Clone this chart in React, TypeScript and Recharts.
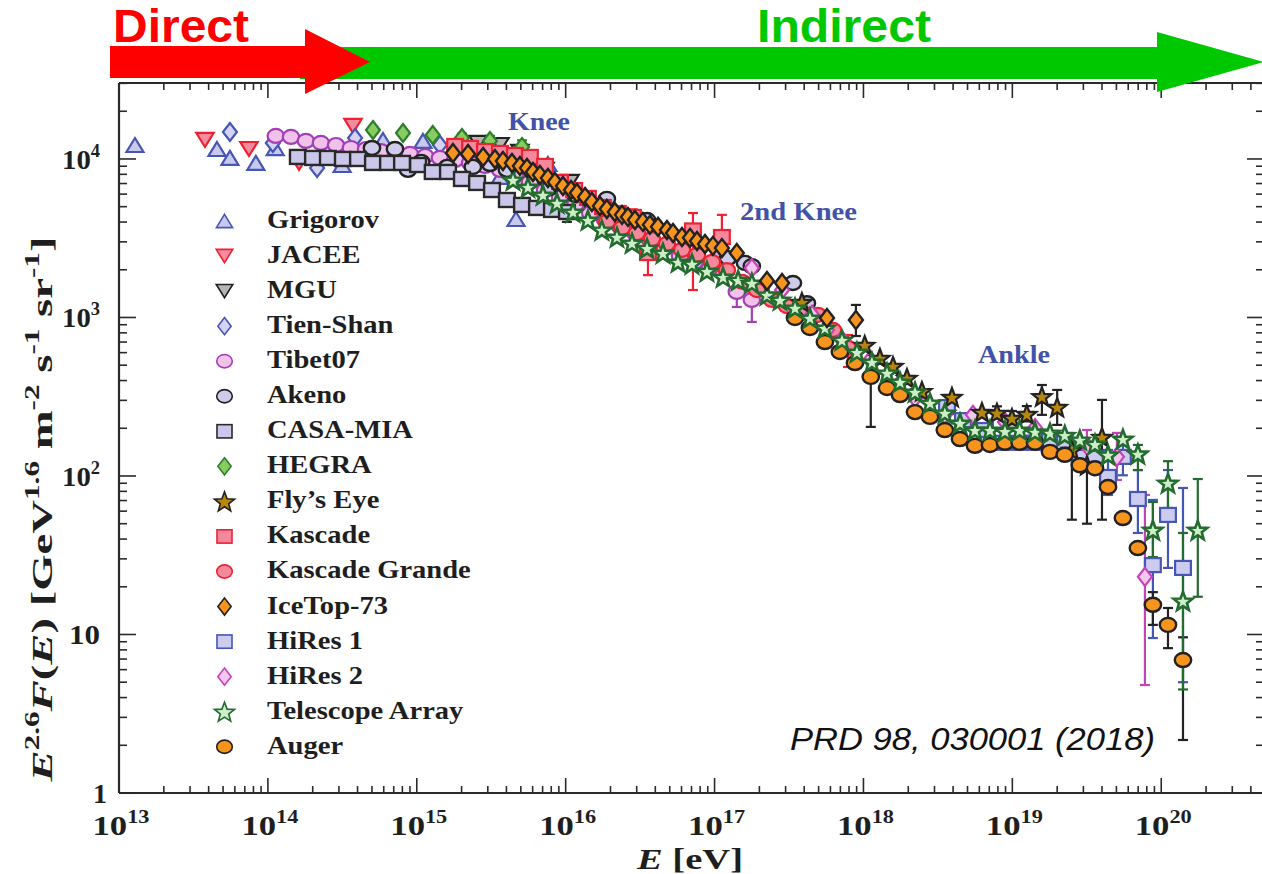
import React from 'react';
import { ScatterChart, Scatter, XAxis, YAxis, ErrorBar, ReferenceLine } from 'recharts';

// ---------- data: [E (eV), E^2.6 F(E), errLow?, errHigh?] ----------
const GRIGOROV = [
  [1.28e13, 12250], [4.55e13, 11560], [5.56e13, 10150], [8.3e13, 9440], [1.12e14, 11720],
  [3.15e14, 9160], [5.93e14, 13180], [1.1e15, 13000], [3.62e15, 7700], [4.64e15, 4180], [7.6e15, 9300],
];
const JACEE = [[3.78e13, 13180], [7.46e13, 11560], [1.62e14, 9440], [3.73e14, 16150]];
const MGU = [[2.58e15, 12620], [3.62e15, 12250], [4.93e15, 11070], [7.26e15, 8530], [1.07e16, 7160]];
const TIEN_SHAN = [[5.56e13, 14800], [1.08e14, 12620], [2.14e14, 8770], [3.85e14, 13560], [1.43e15, 12250]];
const TIBET07 = [
  [1.13e14, 13970], [1.43e14, 13770], [1.8e14, 12990], [2.27e14, 12620], [2.87e14, 12250], [3.61e14, 11730],
  [4.56e14, 11560], [5.75e14, 11220], [7.25e14, 10900], [9.0e14, 10760], [1.14e15, 10440], [1.43e15, 10150],
  [1.81e15, 9860], [2.28e15, 9440], [2.87e15, 9040], [3.62e15, 8530], [4.56e15, 7810], [5.75e15, 7160],
  [7.26e15, 6370], [9.16e15, 5760], [1.16e16, 5130], [1.46e16, 4560], [1.84e16, 4120], [2.32e16, 3730],
  [2.92e16, 3410], [3.68e16, 3080], [4.64e16, 2740], [5.86e16, 2440], [7.38e16, 2240], [9.31e16, 2050],
  [1.41e17, 1450, 285, 325], [1.78e17, 1290, 353, 650],
];
const AKENO = [
  [5.0e14, 11730], [7.14e14, 11560], [8.73e14, 8540], [1.07e15, 9580], [1.6e15, 8910], [2.38e15, 8910],
  [3.1e15, 9290], [4.03e15, 8540], [7.85e15, 6560], [1.16e16, 5930], [1.89e16, 5600], [3.52e16, 4120],
  [1.09e17, 2550], [1.23e17, 2370], [1.6e17, 2210], [1.78e17, 2110], [3.36e17, 1650], [4.17e17, 1230],
];
const CASA_MIA = [
  [1.59e14, 10300], [2.01e14, 10150], [2.53e14, 10150], [3.19e14, 10000], [4.03e14, 10000], [5.08e14, 9440],
  [6.41e14, 9440], [7.96e14, 9440], [1.02e15, 9160], [1.28e15, 8280], [1.62e15, 8280], [2.01e15, 7480],
  [2.54e15, 7060], [3.2e15, 6370], [4.03e15, 5510], [5.09e15, 5130], [6.42e15, 4910], [8.09e15, 4770],
  [1.02e16, 4630, 620, 300],
];
const HEGRA = [
  [5.08e14, 15240], [8.08e14, 14590], [1.28e15, 14170], [2.01e15, 13560, 700, 900],
  [3.1e15, 12990, 700, 1000], [5.09e15, 11910, 700, 1200],
];
const FLYS_EYE = [
  [3.86e17, 1250], [1.02e18, 670], [1.29e18, 555], [1.58e18, 494], [1.96e18, 415], [2.47e18, 343],
  [3.93e18, 315], [6.25e18, 253], [7.88e18, 250, 20, 25], [9.94e18, 232, 20, 25], [1.25e19, 246, 25, 30],
  [1.58e19, 318, 75, 57], [2.0e19, 272, 62, 77], [2.51e19, 146, 93, 23], [3.17e19, 117, 67, 19],
  [4.0e19, 176, 123, 126],
];
const KASCADE = [
  [1.81e15, 12080], [2.28e15, 11730], [2.87e15, 11220], [3.62e15, 10920], [4.56e15, 10600], [5.75e15, 10300],
  [7.26e15, 9040], [9.16e15, 7160], [1.14e16, 6370], [1.41e16, 5680], [1.78e16, 4980], [2.24e16, 4560],
  [2.83e16, 4310, 400, 500], [3.57e16, 2550, 700, 530], [7.16e16, 3540, 2050, 1020], [1.12e17, 3220, 1420, 1220],
];
const KASCADE_GRANDE = [
  [1.89e16, 4010], [2.39e16, 3670], [3.01e16, 3410], [3.8e16, 3120], [4.79e16, 2910], [6.04e16, 2670],
  [7.62e16, 2480], [9.6e16, 2240], [1.21e17, 1990], [1.53e17, 1680], [1.93e17, 1490], [2.43e17, 1290],
  [3.06e17, 1180], [3.86e17, 1080], [4.94e17, 1040], [6.24e17, 834], [7.87e17, 643, 156, 133],
];
const ICETOP_73 = [
  [1.75e15, 10900], [2.21e15, 10760], [2.79e15, 10300], [3.35e15, 10000], [3.79e15, 9710], [4.36e15, 9440],
  [4.93e15, 9040], [5.5e15, 8770], [6.03e15, 8280], [6.72e15, 7930], [7.6e15, 7590], [8.47e15, 7160],
  [9.59e15, 6760], [1.086e16, 6370], [1.19e16, 6100], [1.35e16, 5760], [1.5e16, 5350], [1.7e16, 5050],
  [1.89e16, 4840], [2.14e16, 4630], [2.39e16, 4440], [2.62e16, 4310], [2.92e16, 4120], [3.3e16, 4010],
  [3.68e16, 3840], [4.17e16, 3730], [4.79e16, 3560], [5.26e16, 3410], [6.04e16, 3220], [6.84e16, 3180],
  [7.62e16, 3040], [8.63e16, 2910], [9.75e16, 2830], [1.12e17, 2740], [1.41e17, 2550], [2.25e17, 1700],
  [2.84e17, 1650], [5.69e17, 993], [8.9e17, 964, 200, 236],
];
const HIRES_1 = [
  [3.64e18, 272], [4.66e18, 225], [6.55e18, 195], [8.51e18, 162], [1.12e19, 162], [1.42e19, 162],
  [1.79e19, 169], [2.25e19, 164], [2.84e19, 132], [3.59e19, 130], [4.39e19, 98.6, 22.7, 47.4],
  [5.53e19, 132, 31, 32], [6.97e19, 71.6, 27.9, 37.4], [8.79e19, 27.4, 17.9, 43.2],
  [1.11e20, 56.8, 30.5, 52.2], [1.4e20, 26.3, 21.3, 57.7],
];
const HIRES_2 = [
  [1.78e17, 2050], [2.84e17, 1490], [4.51e17, 1040], [5.69e17, 834], [7.17e17, 721], [1.11e18, 539],
  [1.76e18, 386], [2.22e18, 311], [3.52e18, 243], [5.44e18, 243], [8.92e18, 219], [1.42e19, 201],
  [3.17e19, 155, 32, 40], [5.04e19, 132, 37.6, 55], [7.77e19, 23.1, 18.3, 52.8],
];
const TELESCOPE_ARRAY = [
  [4.43e15, 7380], [5.58e15, 6650], [7.04e15, 5930], [8.75e15, 5280], [1.12e16, 4630], [1.41e16, 4120],
  [1.75e16, 3570], [2.21e16, 3220], [2.79e16, 2950], [3.52e16, 2740], [4.5e16, 2550], [5.68e16, 2240],
  [7.05e16, 2180], [8.89e16, 1960], [1.14e17, 1800], [1.44e17, 1720], [1.78e17, 1650], [2.25e17, 1390],
  [2.75e17, 1290], [3.47e17, 1150], [4.37e17, 993], [5.51e17, 859], [7.17e17, 721], [9.04e17, 605],
  [1.14e18, 524], [1.44e18, 447], [1.76e18, 392], [2.22e18, 339], [2.8e18, 289], [3.52e18, 250],
  [4.45e18, 216], [5.61e18, 195], [7.08e18, 195], [8.92e18, 192], [1.12e19, 195], [1.42e19, 190],
  [1.79e19, 187], [2.25e19, 181], [2.84e19, 169], [3.59e19, 159], [4.39e19, 136], [5.53e19, 171],
  [6.97e19, 138, 29, 19], [8.79e19, 45.6, 14.8, 22.9], [1.11e20, 90.3, 27.5, 33.7],
  [1.4e20, 16.3, 11.8, 27.4], [1.76e20, 45.6, 28.3, 50.1],
];
const AUGER = [
  [3.47e17, 993], [4.37e17, 859], [5.51e17, 700], [6.95e17, 606], [8.77e17, 516], [1.12e18, 422, 218, 31],
  [1.44e18, 359], [1.76e18, 324], [2.22e18, 253], [2.8e18, 236], [3.52e18, 195], [4.45e18, 171],
  [5.61e18, 155], [7.08e18, 157], [8.92e18, 162], [1.12e19, 162], [1.42e19, 162], [1.79e19, 142],
  [2.25e19, 136], [2.84e19, 117], [3.59e19, 112], [4.39e19, 85.2], [5.53e19, 54.3], [6.97e19, 35.1],
  [8.79e19, 15.4, 3.9, 3.1], [1.11e20, 11.5, 3.3, 3.2], [1.4e20, 6.9, 4.74, 2.7],
];

const X_DECADES = [13, 14, 15, 16, 17, 18, 19, 20];
const Y_DECADES = [0, 1, 2, 3, 4];
const X_DOMAIN = [1e13, 4.9e20];
const Y_DOMAIN = [1, 30150];

// ---------- layout ----------
const W = 1300;
const H = 874;
const M = { top: 83, right: 36, bottom: 80, left: 118 };
const PLOT_TOP = M.top;
const PLOT_RIGHT = W - M.right;
const AX = '#2a2a2a';
const TXT = '#1e1e1e';
const SERIF = "'Liberation Serif', 'Times New Roman', serif";
const SANS = "'Liberation Sans', Arial, sans-serif";

const X_TICKS: number[] = [];
X_DECADES.forEach((d) => {
  for (let m = 1; m <= 9; m++) {
    const v = m * Math.pow(10, d);
    if (v <= X_DOMAIN[1]) X_TICKS.push(v);
  }
});
const Y_TICKS: number[] = [];
Y_DECADES.forEach((d) => {
  for (let m = 1; m <= 9; m++) {
    const v = m * Math.pow(10, d);
    if (v <= Y_DOMAIN[1]) Y_TICKS.push(v);
  }
});

type Kind = 'triUp' | 'triDown' | 'diamond' | 'circle' | 'square' | 'star';
interface Style { kind: Kind; fill: string; stroke: string; sw: number }

function marker(st: Style, cx: number, cy: number, k = 1, key?: string) {
  const { kind, fill, stroke, sw } = st;
  const common = { fill, stroke, strokeWidth: sw, strokeLinejoin: 'miter' as const };
  if (kind === 'triUp') {
    const w = 8.5 * k, h = 7 * k;
    return <polygon key={key} points={`${cx},${cy - h} ${cx + w},${cy + h} ${cx - w},${cy + h}`} {...common} />;
  }
  if (kind === 'triDown') {
    const w = 8.7 * k, h = 7 * k;
    return <polygon key={key} points={`${cx - w},${cy - h} ${cx + w},${cy - h} ${cx},${cy + h}`} {...common} />;
  }
  if (kind === 'diamond') {
    const w = 7 * k, h = 9 * k;
    return <polygon key={key} points={`${cx},${cy - h} ${cx + w},${cy} ${cx},${cy + h} ${cx - w},${cy}`} {...common} />;
  }
  if (kind === 'circle') {
    return <ellipse key={key} cx={cx} cy={cy} rx={8.2 * k} ry={7 * k} {...common} />;
  }
  if (kind === 'square') {
    const w = 7.9 * k, h = 7 * k;
    return <rect key={key} x={cx - w} y={cy - h} width={2 * w} height={2 * h} {...common} />;
  }
  const R = 10 * k, r = 4.2 * k;
  const pts: string[] = [];
  for (let i = 0; i < 10; i++) {
    const a = -Math.PI / 2 + (i * Math.PI) / 5;
    const rr = i % 2 === 0 ? R : r;
    pts.push(`${cx + rr * Math.cos(a)},${cy + 1 + rr * Math.sin(a)}`);
  }
  return <polygon key={key} points={pts.join(' ')} {...common} />;
}

interface Series { name: string; data: number[][]; st: Style; err: string }
const SERIES: Series[] = [
  { name: 'Grigorov', data: GRIGOROV, st: { kind: 'triUp', fill: '#c9c9ee', stroke: '#4656b5', sw: 2.2 }, err: '#4656b5' },
  { name: 'JACEE', data: JACEE, st: { kind: 'triDown', fill: '#f28ca0', stroke: '#ee2030', sw: 2.2 }, err: '#ee2030' },
  { name: 'MGU', data: MGU, st: { kind: 'triDown', fill: '#b4b4b4', stroke: '#222', sw: 2.2 }, err: '#222' },
  { name: 'Tien-Shan', data: TIEN_SHAN, st: { kind: 'diamond', fill: '#d4d4f2', stroke: '#4656b5', sw: 2.2 }, err: '#4656b5' },
  { name: 'Tibet07', data: TIBET07, st: { kind: 'circle', fill: '#f0c2ea', stroke: '#a23fb6', sw: 2.2 }, err: '#a23fb6' },
  { name: 'Akeno', data: AKENO, st: { kind: 'circle', fill: '#cfcbea', stroke: '#222', sw: 2.4 }, err: '#222' },
  { name: 'CASA-MIA', data: CASA_MIA, st: { kind: 'square', fill: '#cbc7ea', stroke: '#2a2a2a', sw: 2.4 }, err: '#2a2a2a' },
  { name: 'HEGRA', data: HEGRA, st: { kind: 'diamond', fill: '#86cc5e', stroke: '#2f7d2f', sw: 2.2 }, err: '#2f7d2f' },
  { name: 'Kascade', data: KASCADE, st: { kind: 'square', fill: '#f4889c', stroke: '#ee2233', sw: 2.2 }, err: '#ee2233' },
  { name: 'Kascade Grande', data: KASCADE_GRANDE, st: { kind: 'circle', fill: '#f4889c', stroke: '#ee2233', sw: 2.2 }, err: '#ee2233' },
  { name: 'HiRes 1', data: HIRES_1, st: { kind: 'square', fill: '#cdcbf0', stroke: '#4656b5', sw: 2.2 }, err: '#4656b5' },
  { name: 'HiRes 2', data: HIRES_2, st: { kind: 'diamond', fill: '#f4c8ee', stroke: '#c543b8', sw: 2.2 }, err: '#c543b8' },
  { name: 'Fly\u2019s Eye', data: FLYS_EYE, st: { kind: 'star', fill: '#b8860b', stroke: '#222', sw: 2.2 }, err: '#222' },
  { name: 'Auger', data: AUGER, st: { kind: 'circle', fill: '#f7941d', stroke: '#222', sw: 2.4 }, err: '#222' },
  { name: 'Telescope Array', data: TELESCOPE_ARRAY, st: { kind: 'star', fill: '#cdeec8', stroke: '#236b2e', sw: 2.6 }, err: '#236b2e' },
  { name: 'IceTop-73', data: ICETOP_73, st: { kind: 'diamond', fill: '#f7941d', stroke: '#222', sw: 2.4 }, err: '#222' },
];

const LEGEND_ORDER = [
  'Grigorov', 'JACEE', 'MGU', 'Tien-Shan', 'Tibet07', 'Akeno', 'CASA-MIA', 'HEGRA',
  'Fly\u2019s Eye', 'Kascade', 'Kascade Grande', 'IceTop-73', 'HiRes 1', 'HiRes 2', 'Telescope Array', 'Auger',
];

const toRows = (d: number[][]) =>
  d.map((p) => ({ e: p[0], f: p[1], err: p.length > 2 ? [p[2], p[3]] : undefined }));

const isMajor = (v: number) => {
  const lg = Math.log10(v);
  return Math.abs(lg - Math.round(lg)) < 1e-9;
};

const XTick = (props: any) => {
  const { x, y, payload } = props;
  const v = payload.value as number;
  const major = isMajor(v);
  const len = major ? 15 : 7;
  const n = Math.round(Math.log10(v));
  return (
    <g>
      <line x1={x} x2={x} y1={y} y2={y - len} stroke={AX} strokeWidth={1.6} />
      <line x1={x} x2={x} y1={PLOT_TOP} y2={PLOT_TOP + len} stroke={AX} strokeWidth={1.6} />
      {major && (
        <text x={x + 2} y={y + 42} textAnchor="middle" fontFamily={SERIF} fontWeight="bold" fontSize={28} fill={TXT}
          textLength={57} lengthAdjust="spacingAndGlyphs">
          10<tspan dy={-12} fontSize={18}>{String(n)}</tspan>
        </text>
      )}
    </g>
  );
};

const YTick = (props: any) => {
  const { x, y, payload } = props;
  const v = payload.value as number;
  const major = isMajor(v);
  const len = major ? 17 : 8;
  const n = Math.round(Math.log10(v));
  let label: React.ReactNode = null;
  if (major) {
    if (n === 0) {
      label = (
        <text x={x - 12} y={y + 10} textAnchor="end" fontFamily={SERIF} fontWeight="bold" fontSize={28} fill={TXT}>1</text>
      );
    } else if (n === 1) {
      label = (
        <text x={x - 19} y={y + 10} textAnchor="end" fontFamily={SERIF} fontWeight="bold" fontSize={28} fill={TXT}
          textLength={31} lengthAdjust="spacingAndGlyphs">10</text>
      );
    } else {
      label = (
        <text x={x - 19} y={y + 10} textAnchor="end" fontFamily={SERIF} fontWeight="bold" fontSize={28} fill={TXT}
          textLength={38} lengthAdjust="spacingAndGlyphs">
          10<tspan dy={-12} fontSize={18}>{String(n)}</tspan>
        </text>
      );
    }
  }
  return (
    <g>
      <line x1={x} x2={x + len} y1={y} y2={y} stroke={AX} strokeWidth={1.6} />
      <line x1={PLOT_RIGHT - len} x2={PLOT_RIGHT} y1={y} y2={y} stroke={AX} strokeWidth={1.6} />
      {label}
    </g>
  );
};

const Overlay = () => {
  const legendX = 224.5;
  const legendTextX = 267;
  return (
    <svg width={1262} height={874} style={{ position: 'absolute', left: 0, top: 0, pointerEvents: 'none' }}>
      {/* arrows */}
      <polygon points="300,47 1157,47 1157,32 1264,62 1157,92 1157,79 300,79" fill="#00c800" />
      <polygon points="110,46 305,46 305,29 370,62 305,94 305,78 110,78" fill="#ff0000" />
      <text x={113} y={42} fontFamily={SANS} fontWeight="bold" fontSize={47} fill="#ff0000" textLength={136} lengthAdjust="spacingAndGlyphs">Direct</text>
      <text x={757} y={42} fontFamily={SANS} fontWeight="bold" fontSize={47} fill="#00c800" textLength={174} lengthAdjust="spacingAndGlyphs">Indirect</text>

      {/* annotations */}
      <text x={508} y={130} fontFamily={SERIF} fontWeight="bold" fontSize={25} fill="#4152a8" textLength={62} lengthAdjust="spacingAndGlyphs">Knee</text>
      <text x={740} y={220} fontFamily={SERIF} fontWeight="bold" fontSize={25} fill="#4152a8" textLength={117} lengthAdjust="spacingAndGlyphs">2nd Knee</text>
      <text x={978} y={363} fontFamily={SERIF} fontWeight="bold" fontSize={25} fill="#4152a8" textLength={72} lengthAdjust="spacingAndGlyphs">Ankle</text>

      <text x={790} y={750} fontFamily={SANS} fontStyle="italic" fontSize={31} fill="#111" textLength={365} lengthAdjust="spacingAndGlyphs">PRD 98, 030001 (2018)</text>

      {/* axis titles */}
      <text x={690} y={869} textAnchor="middle" fontFamily={SERIF} fontWeight="bold" fontSize={30} fill={TXT} textLength={106} lengthAdjust="spacingAndGlyphs">
        <tspan fontStyle="italic">E</tspan>{' [eV]'}
      </text>
      <text transform="translate(52,509) rotate(-90)" textAnchor="middle" fontFamily={SERIF} fontWeight="bold" fontSize={30} fill={TXT}
        textLength={545} lengthAdjust="spacingAndGlyphs">
        <tspan fontStyle="italic">E</tspan>
        <tspan fontSize={20} dy={-13}>2.6</tspan>
        <tspan dy={13} fontStyle="italic">F</tspan>
        <tspan>(</tspan>
        <tspan fontStyle="italic">E</tspan>
        <tspan>{') [GeV'}</tspan>
        <tspan fontSize={20} dy={-13}>1.6</tspan>
        <tspan dy={13}>{' m'}</tspan>
        <tspan fontSize={20} dy={-13}>-2</tspan>
        <tspan dy={13}>{' s'}</tspan>
        <tspan fontSize={20} dy={-13}>-1</tspan>
        <tspan dy={13}>{' sr'}</tspan>
        <tspan fontSize={20} dy={-13}>-1</tspan>
        <tspan dy={13}>]</tspan>
      </text>

      {/* legend */}
      {LEGEND_ORDER.map((name, i) => {
        const s = SERIES.find((q) => q.name === name)!;
        const cy = 221 + i * 35.05;
        const st = { ...s.st, sw: 1.6 };
        return (
          <g key={name}>
            {marker(st, legendX, cy, s.st.kind === 'star' ? 1.05 : 0.95)}
            <text x={legendTextX} y={cy + 7} fontFamily={SERIF} fontWeight="bold" fontSize={25.5} fill={TXT}
              transform={`translate(${legendTextX},0) scale(1.12,1) translate(${-legendTextX},0)`}>{name}</text>
          </g>
        );
      })}
    </svg>
  );
};

export default function App() {
  return (
    <div style={{ position: 'absolute', left: 0, top: 0, width: 1262, height: 874, overflow: 'hidden', background: '#fff' }}>
      <ScatterChart width={W} height={H} margin={M}>
        <XAxis xAxisId="x" type="number" dataKey="e" scale="log" domain={X_DOMAIN} allowDataOverflow
          ticks={X_TICKS} interval={0} tick={XTick} tickLine={false} tickSize={0} tickMargin={0} height={1}
          axisLine={{ stroke: AX, strokeWidth: 2.2 }} />
        <YAxis yAxisId="y" type="number" dataKey="f" scale="log" domain={Y_DOMAIN} allowDataOverflow
          ticks={Y_TICKS} interval={0} tick={YTick} tickLine={false} tickSize={0} tickMargin={0} width={1}
          axisLine={{ stroke: AX, strokeWidth: 2.2 }} />
        <ReferenceLine xAxisId="x" yAxisId="y" y={Y_DOMAIN[1]} stroke={AX} strokeWidth={2.2} />
        <ReferenceLine xAxisId="x" yAxisId="y" x={X_DOMAIN[1]} stroke={AX} strokeWidth={2.2} />
        {SERIES.map((s) => {
          const rows = toRows(s.data);
          const errRows = rows.filter((r) => r.err);
          return [
            errRows.length > 0 ? (
              <Scatter key={s.name + '-err'} name={s.name + ' err'} data={errRows} xAxisId="x" yAxisId="y"
                isAnimationActive={false} shape={() => <g />} legendType="none">
                <ErrorBar dataKey="err" direction="y" width={5} stroke={s.err} strokeWidth={2.2} />
              </Scatter>
            ) : null,
            <Scatter key={s.name} name={s.name} data={rows} xAxisId="x" yAxisId="y" isAnimationActive={false}
              shape={(p: any) => marker(s.st, p.cx, p.cy)} />,
          ];
        })}
      </ScatterChart>
      <Overlay />
    </div>
  );
}
